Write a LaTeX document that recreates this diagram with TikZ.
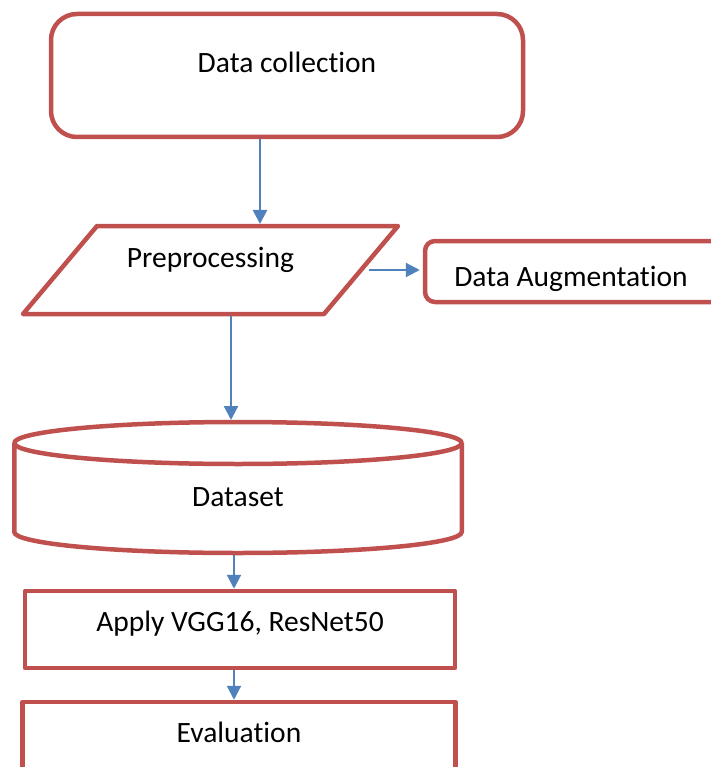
\documentclass[tikz,border=0pt]{standalone}
\usepackage{fontspec}
\setmainfont{Carlito}[Ligatures=CommonOff]
\usetikzlibrary{arrows.meta,positioning}
\definecolor{boxred}{HTML}{C0504D}
\definecolor{flowblue}{HTML}{4F81BD}

\begin{document}
\begin{tikzpicture}[x=1pt, y=1pt,
  box/.style={draw=boxred, line width=4.5pt, inner sep=0pt, fill=white, line join=round},
  frame/.style={inner sep=0pt, outer sep=0pt},
  flow/.style={draw=flowblue, line width=2.2pt, -{Triangle[length=14pt,width=14pt]}},
  txt/.style={font=\fontsize{29.5}{34}\selectfont}]
  \useasboundingbox (0,0) rectangle (710,-767);

  % data collection
  \node[box, rounded corners=26pt, minimum width=472pt, minimum height=123pt,
        label={[txt, yshift=13pt]center:Data collection}] (coll) at (287,-75.5) {};

  % preprocessing (parallelogram) and augmentation
  \node[frame, minimum width=301pt, minimum height=88pt] (prep) at (210.5,-270) {};
  \draw[box] ([xshift=37pt]prep.north west) -- ([xshift=37pt]prep.north east)
    -- ([xshift=-37pt]prep.south east) -- ([xshift=-37pt]prep.south west) -- cycle;
  \node[txt] at ([yshift=10pt]prep.center) {Preprocessing};
  \node[box, rounded corners=10pt, minimum width=305pt, minimum height=61pt,
        label={[txt, xshift=-6.5pt, yshift=-7pt]center:Data Augmentation}] (aug) at (577.5,-271.5) {};

  % dataset (cylinder)
  \node[frame, minimum width=447.5pt, minimum height=131pt] (ds) at (238,-487.5) {};
  \draw[box] ([yshift=-21pt]ds.north west) -- ([yshift=21pt]ds.south west)
    arc[start angle=180, end angle=360, x radius=223.75pt, y radius=21pt]
    -- ([yshift=-21pt]ds.north east);
  \draw[box] ([yshift=-21pt]ds.north) ellipse [x radius=223.75pt, y radius=21pt];
  \node[txt] at ([yshift=-10pt]ds.center) {Dataset};

  % model and evaluation
  \node[box, minimum width=430pt, minimum height=77pt,
        label={[txt, yshift=6pt]center:{Apply VGG16, ResNet50}}] (apply) at (240,-629.5) {};
  \node[box, minimum width=433pt, minimum height=77pt,
        label={[txt, yshift=8pt]center:Evaluation}] (eval) at (239,-740.5) {};

  % arrows
  \draw[flow, shorten >=2pt] (coll.south -| 260,0) -- (prep.north -| 260,0);
  \draw[flow, shorten <=8pt, shorten >=3pt] (prep.east) -- (prep.east -| aug.west);
  \draw[flow, shorten <=2pt, shorten >=2pt] (prep.south -| 231,0) -- (ds.north -| 231,0);
  \draw[flow, shorten <=2pt] (ds.south -| 234,0) -- (apply.north -| 234,0);
  \draw[flow] (apply.south -| 234,0) -- (eval.north -| 234,0);
\end{tikzpicture}
\end{document}
